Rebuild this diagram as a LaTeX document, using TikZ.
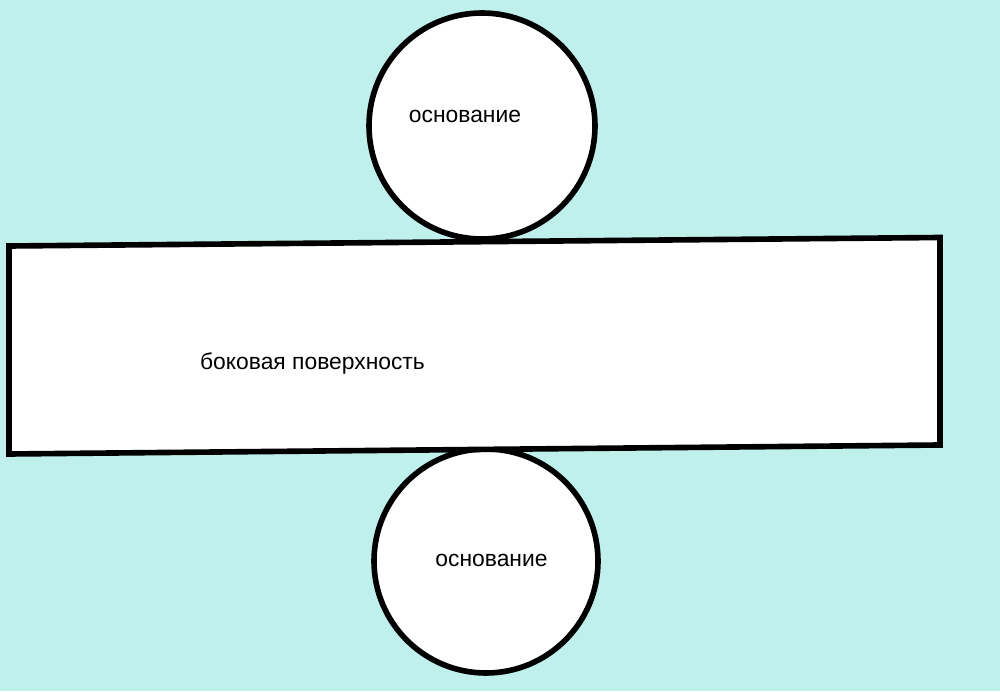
\documentclass[tikz,border=0pt]{standalone}
\usepackage{fontspec}
\setmainfont{Liberation Sans}
\definecolor{bgcyan}{RGB}{191,240,235}

\begin{document}
\begin{tikzpicture}[
	outline/.style={line width=3.2pt, fill=white},
	lbl/.style={font=\fontsize{13}{15}\selectfont}]
	\fill[bgcyan] (0,0) rectangle (20,13.82);
	\useasboundingbox (0,0) rectangle (20,13.82);
	\coordinate (O1) at (9.64, 11.30);
	\coordinate (O2) at (9.72, 2.60);
	\coordinate (A) at (0.18, 8.90);
	\coordinate (B) at (18.80, 9.07);
	\coordinate (C) at (18.80, 4.92);
	\coordinate (D) at (0.18, 4.74);
	\draw[outline] (O1) circle (2.26);
	\draw[outline] (O2) circle (2.24);
	\draw[outline] (A) -- (B) -- (C) -- (D) -- cycle;
	\node[lbl] (top) at (9.30, 11.50) {основание};
	\node[lbl] (side) at (6.25, 6.56) {боковая поверхность};
	\node[lbl] (bottom) at (9.83, 2.62) {основание};
\end{tikzpicture}
\end{document}
